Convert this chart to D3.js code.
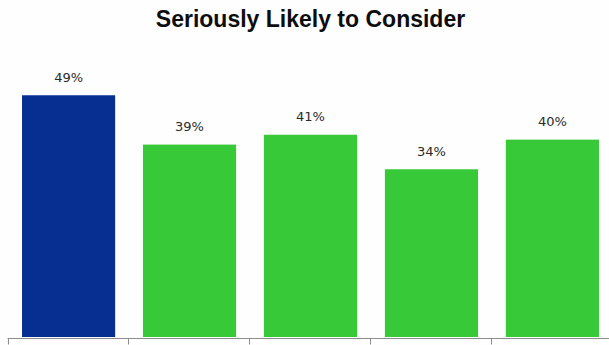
<!DOCTYPE html>
<html>
<head>
<meta charset="utf-8">
<script src="https://cdn.jsdelivr.net/npm/d3@7/dist/d3.min.js"></script>
<style>
  html, body { margin: 0; padding: 0; background: #fdfefd; }
  svg { display: block; }
</style>
</head>
<body>
<svg id="chart" width="609" height="345"></svg>
<script>
// Chart data
const title = "Seriously Likely to Consider";
const categories = ["g1", "g2", "g3", "g4", "g5"];
const values = [49, 39, 41, 34, 40];
const barColors = ["#062f91", "#38c938", "#38c938", "#38c938", "#38c938"];

const width = 609, height = 345;
const svg = d3.select("#chart");

const x = d3.scaleBand()
  .domain(categories)
  .range([7.5, 613.5])
  .paddingInner(0.23)
  .paddingOuter(0.12);

const y = d3.scaleLinear()
  .domain([0, 60])
  .range([337, 41]);

// Title
svg.append("text")
  .attr("x", 310.5)
  .attr("y", 27)
  .attr("text-anchor", "middle")
  .attr("font-family", "Liberation Sans, Arial, sans-serif")
  .attr("font-weight", "bold")
  .attr("font-size", 23)
  .attr("fill", "#0d0d0d")
  .text(title);

// Bars
svg.selectAll("rect.bar")
  .data(values)
  .join("rect")
  .attr("class", "bar")
  .attr("x", (d, i) => x(categories[i]))
  .attr("y", d => y(d))
  .attr("width", x.bandwidth())
  .attr("height", d => y(0) - y(d))
  .attr("fill", (d, i) => barColors[i]);

// Value labels
svg.selectAll("text.val")
  .data(values)
  .join("text")
  .attr("class", "val")
  .attr("x", (d, i) => x(categories[i]) + x.bandwidth() / 2)
  .attr("y", d => y(d) - 13.5)
  .attr("text-anchor", "middle")
  .attr("font-family", "DejaVu Sans, Verdana, sans-serif")
  .attr("font-size", 13)
  .attr("fill", "#2a2a2a")
  .text(d => d + "%");

// Category axis: baseline with ticks at band boundaries
const r0 = x.range()[0];
const boundaries = d3.range(categories.length + 1).map(i => r0 + i * x.step());
const axisY = y(0) + 1.5;
svg.append("line")
  .attr("x1", r0).attr("x2", width)
  .attr("y1", axisY).attr("y2", axisY)
  .attr("stroke", "#8c8c8c").attr("stroke-width", 1);
svg.selectAll("line.tick")
  .data(boundaries)
  .join("line")
  .attr("class", "tick")
  .attr("x1", d => Math.round(d) + 0.5).attr("x2", d => Math.round(d) + 0.5)
  .attr("y1", axisY).attr("y2", axisY + 6)
  .attr("stroke", "#8c8c8c").attr("stroke-width", 1);
</script>
</body>
</html>
